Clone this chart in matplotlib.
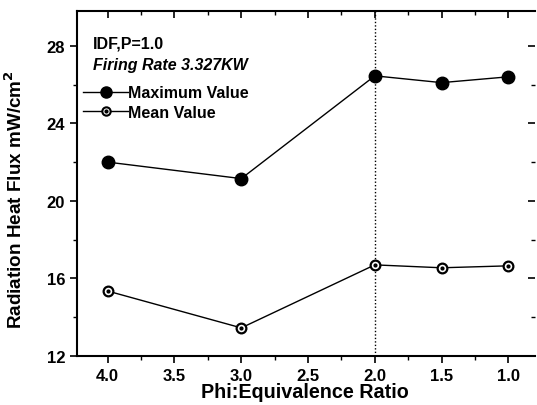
import matplotlib
matplotlib.use('Agg')
import matplotlib.pyplot as plt
from matplotlib.lines import Line2D
from matplotlib.legend_handler import HandlerTuple
from matplotlib.ticker import MultipleLocator

# values
phi = [4.0, 3.0, 2.0, 1.5, 1.0]
max_value = [22.0, 21.15, 26.45, 26.1, 26.4]
mean_value = [15.35, 13.45, 16.7, 16.55, 16.65]
x_ticks = [4.0, 3.5, 3.0, 2.5, 2.0, 1.5, 1.0]
y_ticks = [12, 16, 20, 24, 28]

plt.rcParams['font.family'] = ['Liberation Sans', 'DejaVu Sans']
plt.rcParams['font.weight'] = 'bold'
plt.rcParams['mathtext.default'] = 'bf'

fig = plt.figure(figsize=(5.37, 4.06), dpi=100)
ax = fig.add_axes([0.1434, 0.1207, 0.853, 0.850])

ax.axvline(2.0, color='black', linestyle=(0, (1, 1.5)), linewidth=1)

ax.plot(phi, max_value, color='black', linewidth=1, marker='o',
        markersize=9, markerfacecolor='black', markeredgecolor='black')
ax.plot(phi, mean_value, color='black', linewidth=1, marker='o',
        markersize=7, markerfacecolor='white', markeredgecolor='black',
        markeredgewidth=1.6)
ax.plot(phi, mean_value, linestyle='none', marker='o', markersize=2,
        color='black')

ax.set_xlim(4.23, 0.8)
ax.set_ylim(12, 29.8)
ax.set_xticks(x_ticks)
ax.set_xticklabels([f'{v:.1f}' for v in x_ticks])
ax.set_yticks(y_ticks)
ax.xaxis.set_minor_locator(MultipleLocator(0.25))
ax.yaxis.set_minor_locator(MultipleLocator(2))

ax.tick_params(axis='both', which='major', labelsize=12, length=5, width=1.2)
ax.tick_params(axis='x', which='major', pad=4)
ax.tick_params(axis='both', which='minor', length=3, width=1)
ax.tick_params(axis='both', which='both', direction='out')
ax.xaxis.set_tick_params(which='both', top=True)
ax.yaxis.set_tick_params(which='both', right=True)
for t in ax.xaxis.get_major_ticks() + ax.xaxis.get_minor_ticks():
    t.tick2line.set_marker(3)
for t in ax.yaxis.get_major_ticks() + ax.yaxis.get_minor_ticks():
    t.tick2line.set_marker(0)
for s in ['left', 'bottom', 'top']:
    ax.spines[s].set_linewidth(1.5)
ax.spines['right'].set_visible(False)

ax.set_xlabel('Phi:Equivalence Ratio', fontsize=14.2, fontweight='bold')
ax.xaxis.set_label_coords(0.498, -0.076)
ax.set_ylabel('Radiation Heat Flux mW/cm$^2$', fontsize=13.6,
              fontweight='bold')
ax.yaxis.set_label_coords(-0.112, 0.455)

ax.text(0.035, 0.907, 'IDF,P=1.0', transform=ax.transAxes, fontsize=11.5,
        fontweight='bold', va='center')
ax.text(0.035, 0.846, 'Firing Rate 3.327KW', transform=ax.transAxes,
        fontsize=11.5, fontweight='bold', style='italic', va='center')

h_max = Line2D([], [], color='black', linewidth=1, marker='o', markersize=8,
               markerfacecolor='black')
h_mean = Line2D([], [], color='black', linewidth=1, marker='o', markersize=6,
                markerfacecolor='white', markeredgewidth=1.5)
h_dot = Line2D([], [], linestyle='none', marker='o', markersize=2,
               color='black')
ax.legend([h_max, (h_mean, h_dot)], ['Maximum Value', 'Mean Value'],
          handler_map={tuple: HandlerTuple(ndivide=1, pad=0)},
          loc='upper left', bbox_to_anchor=(0.013, 0.785), frameon=False,
          handlelength=2.85, handletextpad=0.0, labelspacing=0.3,
          borderaxespad=0, borderpad=0,
          prop={'size': 11.5, 'weight': 'bold'})

fig.savefig('out.png', dpi=100)
